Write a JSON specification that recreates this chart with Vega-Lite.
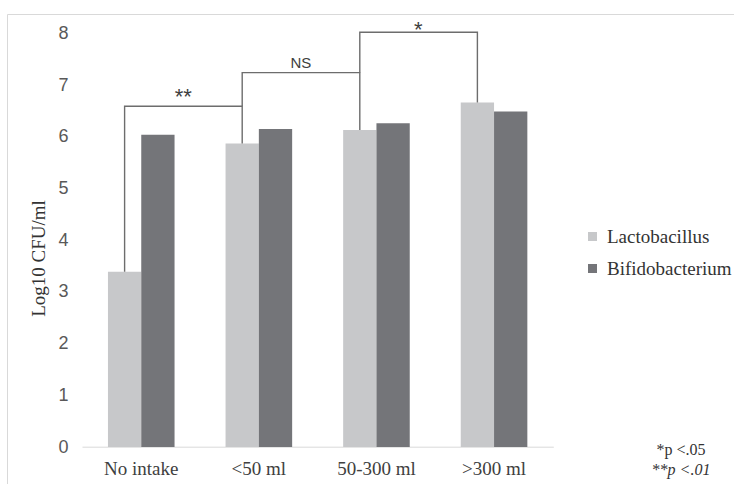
{
  "$schema": "https://vega.github.io/schema/vega-lite/v6.json",
  "width": 740,
  "height": 480,
  "autosize": {"type": "none"},
  "padding": {"left": 7, "top": 14, "right": 0, "bottom": 0},
  "background": "white",
  "config": {"view": {"stroke": "#d9d9d9", "strokeWidth": 1}},
  "datasets": {
    "bars": [
      {"intake": "No intake", "genus": "Lactobacillus", "cfu": 3.39},
      {"intake": "No intake", "genus": "Bifidobacterium", "cfu": 6.04},
      {"intake": "<50 ml", "genus": "Lactobacillus", "cfu": 5.87},
      {"intake": "<50 ml", "genus": "Bifidobacterium", "cfu": 6.15},
      {"intake": "50-300 ml", "genus": "Lactobacillus", "cfu": 6.13},
      {"intake": "50-300 ml", "genus": "Bifidobacterium", "cfu": 6.26},
      {"intake": ">300 ml", "genus": "Lactobacillus", "cfu": 6.66},
      {"intake": ">300 ml", "genus": "Bifidobacterium", "cfu": 6.49}
    ],
    "brackets": [
      {"bracket": "A", "step": 1, "intake": "No intake", "level": 3.39},
      {"bracket": "A", "step": 2, "intake": "No intake", "level": 6.59},
      {"bracket": "A", "step": 3, "intake": "<50 ml", "level": 6.59},
      {"bracket": "A", "step": 4, "intake": "<50 ml", "level": 5.87},
      {"bracket": "B", "step": 1, "intake": "<50 ml", "level": 6.59},
      {"bracket": "B", "step": 2, "intake": "<50 ml", "level": 7.24},
      {"bracket": "B", "step": 3, "intake": "50-300 ml", "level": 7.24},
      {"bracket": "B", "step": 4, "intake": "50-300 ml", "level": 6.13},
      {"bracket": "C", "step": 1, "intake": "50-300 ml", "level": 7.24},
      {"bracket": "C", "step": 2, "intake": "50-300 ml", "level": 8.02},
      {"bracket": "C", "step": 3, "intake": ">300 ml", "level": 8.02},
      {"bracket": "C", "step": 4, "intake": ">300 ml", "level": 6.66}
    ],
    "stars": [
      {"intake": "No intake", "level": 6.63, "label": "**"},
      {"intake": "50-300 ml", "level": 7.93, "label": "*"}
    ],
    "ns": [
      {"intake": "<50 ml", "level": 7.32, "label": "NS"}
    ]
  },
  "title": {
    "text": "*p <.05",
    "subtitle": "**p <.01",
    "orient": "bottom",
    "anchor": "end",
    "frame": "group",
    "align": "center",
    "font": "Liberation Serif",
    "fontSize": 16,
    "fontWeight": "normal",
    "color": "#333333",
    "subtitleFont": "Liberation Serif",
    "subtitleFontSize": 16,
    "subtitleFontStyle": "italic",
    "subtitleColor": "#333333",
    "subtitlePadding": 4,
    "dx": -66,
    "dy": -56
  },
  "layer": [
    {
      "data": {"name": "bars"},
      "mark": {"type": "bar"},
      "encoding": {
        "x": {
          "field": "intake",
          "type": "nominal",
          "sort": ["No intake", "<50 ml", "50-300 ml", ">300 ml"],
          "scale": {
            "domain": ["No intake", "<50 ml", "50-300 ml", ">300 ml"],
            "range": [75, 546.3],
            "paddingInner": 0.4337,
            "paddingOuter": 0.2207
          },
          "axis": {
            "title": null,
            "orient": "bottom",
            "offset": -47.3,
            "domainColor": "#d9d9d9",
            "domainWidth": 1,
            "ticks": false,
            "labelFont": "Liberation Serif",
            "labelFontSize": 19,
            "labelColor": "#404040",
            "labelPadding": 13,
            "labelAngle": 0
          }
        },
        "xOffset": {
          "field": "genus",
          "type": "nominal",
          "sort": ["Lactobacillus", "Bifidobacterium"],
          "scale": {"paddingInner": 0, "paddingOuter": 0}
        },
        "y": {
          "field": "cfu",
          "type": "quantitative",
          "scale": {"domain": [0, 8], "range": [433, 19.3], "nice": false},
          "axis": {
            "title": "Log10 CFU/ml",
            "titleFont": "Liberation Serif",
            "titleFontSize": 19,
            "titleFontWeight": "normal",
            "titleColor": "#333333",
            "titleX": 31,
            "titleY": 244,
            "titleAngle": -90,
            "titleAlign": "center",
            "titleBaseline": "middle",
            "values": [0, 1, 2, 3, 4, 5, 6, 7, 8],
            "format": "d",
            "domain": false,
            "ticks": false,
            "grid": false,
            "labelFont": "Liberation Sans",
            "labelFontSize": 18,
            "labelColor": "#595959",
            "labelAlign": "right",
            "labelBaseline": "middle",
            "labelPadding": -61
          }
        },
        "color": {
          "field": "genus",
          "type": "nominal",
          "scale": {"domain": ["Lactobacillus", "Bifidobacterium"], "range": ["#c7c8ca", "#747579"]},
          "legend": {
            "orient": "none",
            "legendX": 576,
            "legendY": 213,
            "title": null,
            "symbolType": "square",
            "symbolSize": 81,
            "symbolStrokeWidth": 0,
            "labelFont": "Liberation Serif",
            "labelFontSize": 19,
            "labelColor": "#333333",
            "labelOffset": 5,
            "rowPadding": 12
          }
        }
      }
    },
    {
      "data": {"name": "brackets"},
      "mark": {"type": "line", "color": "#6d6d6d", "strokeWidth": 1.4},
      "encoding": {
        "x": {"field": "intake", "type": "nominal", "sort": ["No intake", "<50 ml", "50-300 ml", ">300 ml"], "bandPosition": 0.25},
        "y": {"field": "level", "type": "quantitative"},
        "detail": {"field": "bracket"},
        "order": {"field": "step"}
      }
    },
    {
      "data": {"name": "stars"},
      "mark": {"type": "text", "font": "Liberation Sans", "fontSize": 22, "color": "#404040", "baseline": "alphabetic", "align": "center"},
      "encoding": {
        "x": {"field": "intake", "type": "nominal", "sort": ["No intake", "<50 ml", "50-300 ml", ">300 ml"], "bandPosition": 1.13},
        "y": {"field": "level", "type": "quantitative"},
        "text": {"field": "label"}
      }
    },
    {
      "data": {"name": "ns"},
      "mark": {"type": "text", "font": "Liberation Sans", "fontSize": 15, "color": "#404040", "baseline": "alphabetic", "align": "center"},
      "encoding": {
        "x": {"field": "intake", "type": "nominal", "sort": ["No intake", "<50 ml", "50-300 ml", ">300 ml"], "bandPosition": 1.13},
        "y": {"field": "level", "type": "quantitative"},
        "text": {"field": "label"}
      }
    }
  ]
}
